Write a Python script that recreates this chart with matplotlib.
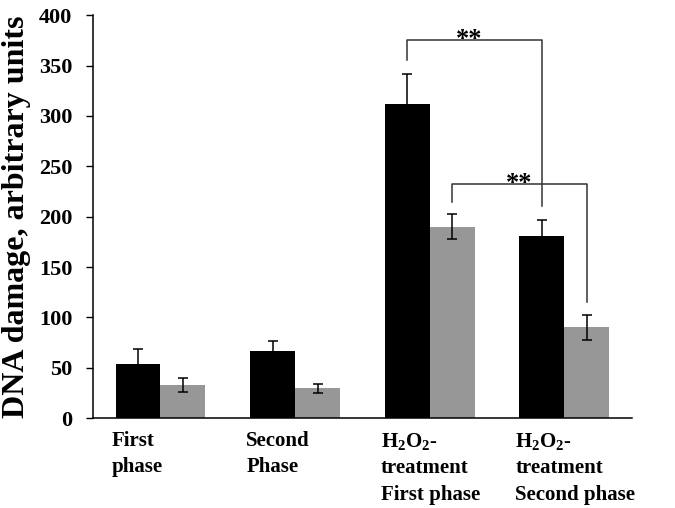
import numpy as np
import matplotlib.pyplot as plt

plt.rcParams['font.family'] = 'Liberation Serif'
plt.rcParams['font.weight'] = 'bold'
plt.rcParams['mathtext.fontset'] = 'custom'
plt.rcParams['mathtext.rm'] = 'Liberation Serif:bold'
plt.rcParams['mathtext.bf'] = 'Liberation Serif:bold'

# data
groups = ['First\nphase', 'Second\nPhase',
          '$\\mathrm{H_2O_2}$-\ntreatment\nFirst phase',
          '$\\mathrm{H_2O_2}$-\ntreatment\nSecond phase']
black_vals = [54, 67, 312, 181]
black_err = [15, 10, 30, 16]
gray_vals = [33, 29.5, 190, 90]
gray_err = [7, 4.5, 12.5, 12]

# significance brackets: (x left, x right, top, left leg end, right leg end)
br_left = [1.833, 2.167]
br_right = [2.833, 3.167]
br_top = [375, 232]
br_left_end = [356, 215]
br_right_end = [211, 115]
star_x = [2.29, 2.66]

fig = plt.figure(figsize=(6.75, 5.08), dpi=100)
ax = fig.add_axes([0.138, 0.177, 0.798, 0.793])

x = np.arange(len(groups))
w = 0.334
ax.bar(x - w / 2, black_vals, w, color='black')
ax.bar(x + w / 2, gray_vals, w, color='#979797')
ax.errorbar(x - w / 2, black_vals, yerr=black_err, fmt='none', ecolor='black',
            elinewidth=1.1, capsize=3.3, capthick=1.1)
ax.errorbar(x + w / 2, gray_vals, yerr=gray_err, fmt='none', ecolor='black',
            elinewidth=1.1, capsize=3.3, capthick=1.1)

for i in range(len(br_top)):
    ax.plot([br_left[i], br_left[i], br_right[i], br_right[i]],
            [br_left_end[i], br_top[i], br_top[i], br_right_end[i]],
            color='#333333', lw=1.1)
    ax.annotate('**', (star_x[i], br_top[i]), xytext=(0, -4),
                textcoords='offset points', ha='center', va='baseline',
                fontsize=19, fontweight='bold')

ax.set_xlim(-0.5, 3.5)
ax.set_ylim(0, 400)
ax.set_yticks(range(0, 401, 50))
ax.tick_params(axis='y', labelsize=16, length=5, width=1, direction='out', pad=10)
ax.set_xticks(x - w - 0.03)
ax.set_xticklabels(groups, ha='left', fontsize=15, linespacing=1.45)
ax.tick_params(axis='x', length=0, pad=9)
ax.set_ylabel('DNA damage, arbitrary units', fontsize=23, fontweight='bold',
              labelpad=6)

for s in ['top', 'right']:
    ax.spines[s].set_visible(False)
for s in ['left', 'bottom']:
    ax.spines[s].set_linewidth(1.1)

plt.savefig('out.png', dpi=100)
